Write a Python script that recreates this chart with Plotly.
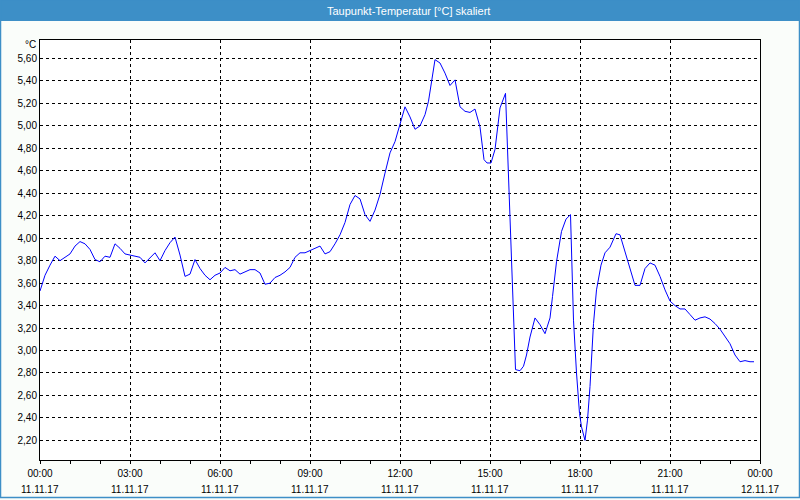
import plotly.graph_objects as go

# --- data ---
times = ["00:00","00:10","00:20","00:30","00:40","00:50","01:00","01:10","01:20","01:30",
         "01:40","01:50","02:00","02:10","02:20","02:30","02:40","02:50","03:00","03:10",
         "03:20","03:30","03:40","03:50","04:00","04:10","04:20","04:30","04:40","04:50",
         "05:00","05:10","05:20","05:30","05:40","05:50","06:00","06:10","06:20","06:30",
         "06:40","06:50","07:00","07:10","07:20","07:30","07:40","07:50","08:00","08:10",
         "08:20","08:30","08:40","08:50","09:00","09:10","09:20","09:30","09:40","09:50",
         "10:00","10:10","10:20","10:30","10:40","10:50","11:00","11:10","11:20","11:30",
         "11:40","11:50","12:00","12:10","12:20","12:30","12:40","12:50","12:57","13:03",
         "13:10","13:20","13:30","13:40","13:50","14:00","14:10","14:20","14:30","14:40",
         "14:48","14:54","15:02","15:10","15:20","15:31","15:51","16:00","16:07","16:13",
         "16:20","16:30","16:40","16:50","17:00","17:05","17:13","17:23","17:32","17:41",
         "17:47","17:53","17:59","18:03","18:10","18:15","18:20","18:27","18:33","18:42",
         "18:50","19:00","19:07","19:12","19:20","19:30","19:40","19:50","20:00","20:10",
         "20:20","20:30","20:40","20:50","21:00","21:10","21:20","21:30","21:40","21:50",
         "22:00","22:10","22:20","22:30","22:40","22:50","23:00","23:10","23:20","23:30",
         "23:40","23:48"]
dewpoint = [3.53,3.67,3.76,3.84,3.80,3.83,3.86,3.93,3.97,3.95,
            3.90,3.81,3.79,3.84,3.83,3.95,3.91,3.86,3.85,3.84,
            3.83,3.78,3.83,3.87,3.80,3.89,3.96,4.01,3.85,3.66,
            3.68,3.81,3.73,3.67,3.63,3.67,3.69,3.74,3.71,3.72,
            3.68,3.70,3.72,3.72,3.69,3.59,3.60,3.65,3.67,3.70,
            3.74,3.83,3.87,3.87,3.89,3.91,3.93,3.86,3.88,3.95,
            4.03,4.14,4.30,4.38,4.35,4.21,4.15,4.25,4.39,4.58,
            4.76,4.86,5.02,5.17,5.08,4.97,5.00,5.10,5.22,5.41,
            5.59,5.56,5.47,5.36,5.41,5.17,5.13,5.12,5.15,4.99,
            4.70,4.67,4.67,4.79,5.16,5.29,2.83,2.82,2.86,2.96,
            3.12,3.29,3.23,3.15,3.29,3.48,3.79,4.06,4.17,4.21,
            3.27,2.80,2.44,2.32,2.20,2.38,2.68,3.24,3.54,3.76,
            3.87,3.92,3.99,4.04,4.03,3.88,3.71,3.58,3.58,3.73,
            3.78,3.76,3.66,3.54,3.44,3.40,3.37,3.37,3.32,3.27,
            3.29,3.30,3.28,3.24,3.19,3.12,3.06,2.96,2.90,2.91,
            2.90,2.90]
x_tick_hours = [0, 3, 6, 9, 12, 15, 18, 21, 24]
x_tick_times = ["00:00", "03:00", "06:00", "09:00", "12:00", "15:00", "18:00", "21:00", "00:00"]
x_tick_dates = ["11.11.17", "11.11.17", "11.11.17", "11.11.17", "11.11.17",
                "11.11.17", "11.11.17", "11.11.17", "12.11.17"]
y_tick_values = [2.2, 2.4, 2.6, 2.8, 3.0, 3.2, 3.4, 3.6, 3.8, 4.0, 4.2, 4.4, 4.6, 4.8, 5.0, 5.2, 5.4, 5.6]
y_tick_labels = [f"{v:.2f}".replace(".", ",") for v in y_tick_values]
title_text = "Taupunkt-Temperatur [°C] skaliert"
unit_text = "°C"

hours = [int(t[:2]) + int(t[3:]) / 60 for t in times]

BLUE = "#3d8fc7"
BG = "#fafdfa"
FONT = "Liberation Sans, Arial, sans-serif"

fig = go.Figure()
fig.add_trace(go.Scatter(x=hours, y=dewpoint, mode="lines",
                         line=dict(color="#0000ff", width=1), hoverinfo="skip"))

W, H = 800, 500
L, R, T, B = 40, 40, 40, 40
pw, ph = W - L - R, H - T - B

def px(xp):
    return (xp - L) / pw

def py(yp):
    return 1 - (yp - T) / ph

annotations = [
    dict(text=title_text, xref="paper", yref="paper", x=px(408), y=py(10.5),
         xanchor="center", yanchor="middle", showarrow=False,
         font=dict(family=FONT, size=11, color="#ffffff")),
    dict(text=unit_text, xref="paper", yref="paper", x=px(37.5), y=py(44.5),
         xanchor="right", yanchor="middle", showarrow=False,
         font=dict(family=FONT, size=10, color="#000000")),
]
for h, d in zip(x_tick_hours, x_tick_dates):
    annotations.append(dict(text=d, xref="x", yref="paper", x=h, y=py(489),
                            xanchor="center", yanchor="middle", showarrow=False,
                            font=dict(family=FONT, size=10, color="#000000")))

fig.update_layout(
    width=W, height=H,
    margin=dict(l=L, r=R, t=T, b=B, pad=0),
    paper_bgcolor=BG, plot_bgcolor="#ffffff",
    showlegend=False,
    font=dict(family=FONT, size=10, color="#000000"),
    xaxis=dict(range=[0, 24], tickmode="array", tickvals=x_tick_hours, ticktext=x_tick_times,
               showgrid=True, gridcolor="#000000", gridwidth=1, griddash="3px,3px",
               showline=True, linecolor="#000000", linewidth=1, mirror=True,
               ticks="outside", ticklen=3, tickcolor="#000000", ticklabelstandoff=1,
               minor=dict(dtick=1, tick0=0, ticks="outside", ticklen=3, tickcolor="#000000", showgrid=False),
               zeroline=False, fixedrange=True,
               tickfont=dict(family=FONT, size=10, color="#000000")),
    yaxis=dict(range=[2.025, 5.765], tickmode="array", tickvals=y_tick_values, ticktext=y_tick_labels,
               showgrid=True, gridcolor="#000000", gridwidth=1, griddash="3px,3px",
               showline=True, linecolor="#000000", linewidth=1, mirror=True,
               ticks="", zeroline=False, fixedrange=True,
               tickfont=dict(family=FONT, size=10, color="#000000")),
    shapes=[
        dict(type="rect", xref="paper", yref="paper",
             x0=px(0), x1=px(800), y0=py(0), y1=py(21),
             fillcolor=BLUE, line=dict(width=0), layer="above"),
        dict(type="rect", xref="paper", yref="paper",
             x0=px(0.5), x1=px(799.5), y0=py(0), y1=py(497.5),
             fillcolor="rgba(0,0,0,0)", line=dict(color=BLUE, width=1.5), layer="above"),
    ],
    annotations=annotations,
)

fig.write_html("out.html")
